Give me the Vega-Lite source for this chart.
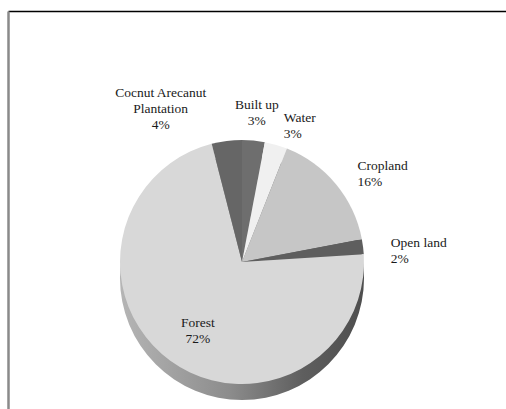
{
  "$schema": "https://vega.github.io/schema/vega-lite/v6.json",
  "autosize": {"type": "none"},
  "width": 498,
  "height": 398,
  "padding": {"left": 8, "top": 11, "right": 0, "bottom": 0},
  "background": "#ffffff",
  "config": {"view": {"stroke": null}},
  "data": {
    "values": [
      {"idx": 1, "name": "Built up", "label": "Built up\n3%", "value": 3},
      {"idx": 2, "name": "Water", "label": "Water\n3%", "value": 3},
      {"idx": 3, "name": "Cropland", "label": "Cropland\n16%", "value": 16},
      {"idx": 4, "name": "Open land", "label": "Open land\n2%", "value": 2},
      {"idx": 5, "name": "Forest", "label": "Forest\n72%", "value": 72},
      {"idx": 6, "name": "Cocnut Arecanut Plantation", "label": "Cocnut Arecanut\nPlantation\n4%", "value": 4}
    ]
  },
  "layer": [
    {
      "mark": {"type": "point", "opacity": 0},
      "encoding": {
        "x": {"field": "value", "type": "quantitative", "axis": {"orient": "top", "labels": false, "ticks": false, "grid": false, "title": null, "domainColor": "#000000", "domainWidth": 1.5}},
        "y": {"field": "value", "type": "quantitative", "axis": {"orient": "left", "labels": false, "ticks": false, "grid": false, "title": null, "domainColor": "#8a8a8a", "domainWidth": 2.5}}
      }
    },
    {
      "transform": [{"aggregate": [{"op": "sum", "field": "value", "as": "total"}]}],
      "mark": {
        "type": "arc",
        "outerRadius": 122,
        "xOffset": -15,
        "yOffset": 68,
        "fill": {
          "x1": 0, "y1": 0, "x2": 1, "y2": 0,
          "gradient": "linear",
          "stops": [
            {"offset": 0, "color": "#b5b5b5"},
            {"offset": 0.45, "color": "#8c8c8c"},
            {"offset": 0.75, "color": "#5e5e5e"},
            {"offset": 1, "color": "#4e4e4e"}
          ]
        }
      },
      "encoding": {
        "theta": {"field": "total", "type": "quantitative"}
      }
    },
    {
      "mark": {"type": "arc", "outerRadius": 122, "xOffset": -15, "yOffset": 52},
      "encoding": {
        "theta": {"field": "value", "type": "quantitative", "stack": true, "scale": {"domain": [0, 100]}},
        "order": {"field": "idx", "type": "quantitative"},
        "color": {
          "field": "name", "type": "nominal", "legend": null,
          "scale": {
            "domain": ["Built up", "Water", "Cropland", "Open land", "Forest", "Cocnut Arecanut Plantation"],
            "range": ["#6e6e6e", "#f0f0f0", "#c6c6c6", "#5e5e5e", "#d8d8d8", "#666666"]
          }
        }
      }
    },
    {
      "mark": {
        "type": "text",
        "font": "Liberation Serif",
        "fontSize": 13.5,
        "lineBreak": "\n",
        "lineHeight": 16,
        "fill": "#1a1a1a",
        "baseline": "middle",
        "xOffset": -15,
        "yOffset": 52,
        "radius": {"expr": "datum.name == 'Forest' ? 75 : (datum.name == 'Cocnut Arecanut Plantation' ? 170 : (datum.name == 'Built up' ? 158 : 150))"},
        "dx": {"expr": "datum.name == 'Cocnut Arecanut Plantation' ? -60 : 0"},
        "align": {"expr": "(datum.name == 'Built up' || datum.name == 'Forest' || datum.name == 'Cocnut Arecanut Plantation') ? 'center' : 'left'"}
      },
      "encoding": {
        "theta": {"field": "value", "type": "quantitative", "stack": true, "scale": {"domain": [0, 100]}},
        "order": {"field": "idx", "type": "quantitative"},
        "text": {"field": "label"}
      }
    }
  ]
}
